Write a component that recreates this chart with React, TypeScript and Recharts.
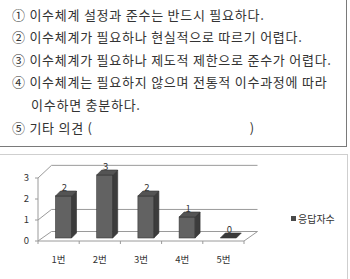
import { BarChart, Bar, XAxis, YAxis, CartesianGrid, Legend, LabelList } from 'recharts'

const optionLines = [
  '① 이수체계 설정과 준수는 반드시 필요하다.',
  '② 이수체계가 필요하나 현실적으로 따르기 어렵다.',
  '③ 이수체계가 필요하나 제도적 제한으로 준수가 어렵다.',
  '④ 이수체계는 필요하지 않으며 전통적 이수과정에 따라',
  '이수하면 충분하다.',
  '⑤ 기타 의견 (',
]
const indentedLines = [4]
const otherClose = ')'

const categories = ['1번', '2번', '3번', '4번', '5번']
const responses = [2, 3, 2, 1, 0]
const yTicks = [0, 1, 2, 3]
const seriesName = '응답자수'

const chartData = categories.map((c, i) => ({ name: c, v: responses[i] }))

const FONT = '"Noto Sans CJK KR", "Noto Sans", sans-serif'
const CH_W = 350
const CH_H = 125
const LEGEND_W = 56
const MARGIN = { top: 24, right: 106 - LEGEND_W, bottom: 8, left: 8 }
const PLOT_BOTTOM = CH_H - MARGIN.bottom - 30
const BACK_DX = 13.5
const BACK_DY = -9.5
const BAR_DX = 4.5
const BAR_DY = -3
const DEPTH = 5
const LINE = '#9a9a9a'

function Bar3D(props: any) {
  const { x, y, width, height } = props
  const h = Math.max(height || 0, 0)
  const fx = x + BAR_DX
  const fy = y + BAR_DY
  const top = `${fx},${fy} ${fx + width},${fy} ${fx + width + DEPTH},${fy - DEPTH} ${fx + DEPTH},${fy - DEPTH}`
  const side = `${fx + width},${fy} ${fx + width + DEPTH},${fy - DEPTH} ${fx + width + DEPTH},${fy + h - DEPTH} ${fx + width},${fy + h}`
  return (
    <g>
      {h > 0 && <rect x={fx} y={fy} width={width} height={h} fill="#626262" stroke="#3a3a3a" strokeWidth={0.6} />}
      {h > 0 && <polygon points={side} fill="#3c3c3c" stroke="#333" strokeWidth={0.6} />}
      <polygon points={top} fill={h > 0 ? '#545454' : '#3a3a3a'} stroke="#333" strokeWidth={0.6} />
    </g>
  )
}

function gridLine(props: any) {
  const { x1, y1, x2 } = props
  const k = 1.05
  const by = PLOT_BOTTOM + BACK_DY - (PLOT_BOTTOM - y1) * k
  const isFloor = y1 >= PLOT_BOTTOM - 0.5
  return (
    <g key={props.key ?? `g${y1}`}>
      <line x1={x1 + BACK_DX} y1={by} x2={x2 + BACK_DX} y2={by} stroke={LINE} strokeWidth={1} />
      <line x1={x1} y1={y1} x2={x1 + BACK_DX} y2={by} stroke={LINE} strokeWidth={1} />
      {isFloor && <line x1={x2} y1={y1} x2={x2 + BACK_DX} y2={by} stroke={LINE} strokeWidth={1} />}
    </g>
  )
}

function XTick(props: any) {
  const { x, y, payload, index } = props
  const band = (CH_W - MARGIN.left - 30 - MARGIN.right - LEGEND_W) / categories.length
  return (
    <g>
      <line x1={x - band / 2} y1={y - 8} x2={x - band / 2} y2={y - 5} stroke={LINE} />
      {index === categories.length - 1 && (
        <line x1={x + band / 2} y1={y - 8} x2={x + band / 2} y2={y - 5} stroke={LINE} />
      )}
      <text x={x} y={y + 14} textAnchor="middle" fontSize={9.5} fill="#333" fontFamily={FONT}>
        {payload.value}
      </text>
    </g>
  )
}

function BarLabel(props: any) {
  const { x, y, width, value } = props
  return (
    <text x={x + width / 2 + BAR_DX + 1} y={y + BAR_DY - 5} textAnchor="middle" fontSize={9.5} fill="#333" fontFamily={FONT}>
      {value}
    </text>
  )
}

function LegendBox() {
  return (
    <div style={{ display: 'flex', alignItems: 'center', fontFamily: FONT, fontSize: 10, color: '#333' }}>
      <span style={{ display: 'inline-block', width: 5, height: 5, background: '#4a4a4a', marginRight: 2 }} />
      <span>{seriesName}</span>
    </div>
  )
}

export default function App() {
  return (
    <div style={{ position: 'relative', width: 350, height: 279, overflow: 'hidden', background: '#fff' }}>
      <style>{'body{margin:0}'}</style>
      <div
        style={{
          position: 'absolute', left: -2, top: -2, width: 348.5, height: 148.5,
          boxSizing: 'border-box', border: '1.5px solid #7a7a7a',
        }}
      />
      <div
        style={{
          position: 'absolute', left: 12, top: 3.7, fontFamily: FONT, fontSize: 13,
          lineHeight: '22.6px', color: '#333', whiteSpace: 'pre', letterSpacing: 0.75,
        }}
      >
        {optionLines.map((t, i) => (
          <div key={i} style={{ paddingLeft: indentedLines.includes(i) ? 19 : 0 }}>
            {t}
            {i === optionLines.length - 1 && (
              <span style={{ display: 'inline-block', marginLeft: 157 }}>{otherClose}</span>
            )}
          </div>
        ))}
      </div>
      <div
        style={{
          position: 'absolute', left: -1, top: 154, width: 349, height: 140,
          boxSizing: 'border-box', border: '1px solid #cfcfcf',
        }}
      />
      <div style={{ position: 'absolute', left: 0, top: 154 }}>
        <BarChart width={CH_W} height={CH_H} data={chartData} margin={MARGIN}>
          <CartesianGrid vertical={false} horizontal={gridLine} />
          <XAxis
            dataKey="name"
            height={30}
            axisLine={{ stroke: LINE }}
            tickLine={false}
            tick={<XTick />}
            interval={0}
          />
          <YAxis
            width={30}
            domain={[0, 3]}
            ticks={yTicks}
            axisLine={{ stroke: LINE }}
            tickLine={{ stroke: LINE }}
            tickSize={3}
            tickMargin={6}
            tick={{ fontSize: 9.5, fill: '#333', fontFamily: FONT }}
          />
          <Legend
            layout="vertical"
            align="right"
            verticalAlign="middle"
            content={<LegendBox />}
            wrapperStyle={{ position: 'absolute', left: 291, top: 57, width: LEGEND_W }}
          />
          <Bar dataKey="v" name={seriesName} barSize={16} shape={<Bar3D />} isAnimationActive={false}>
            <LabelList dataKey="v" content={<BarLabel />} />
          </Bar>
        </BarChart>
      </div>
    </div>
  )
}
